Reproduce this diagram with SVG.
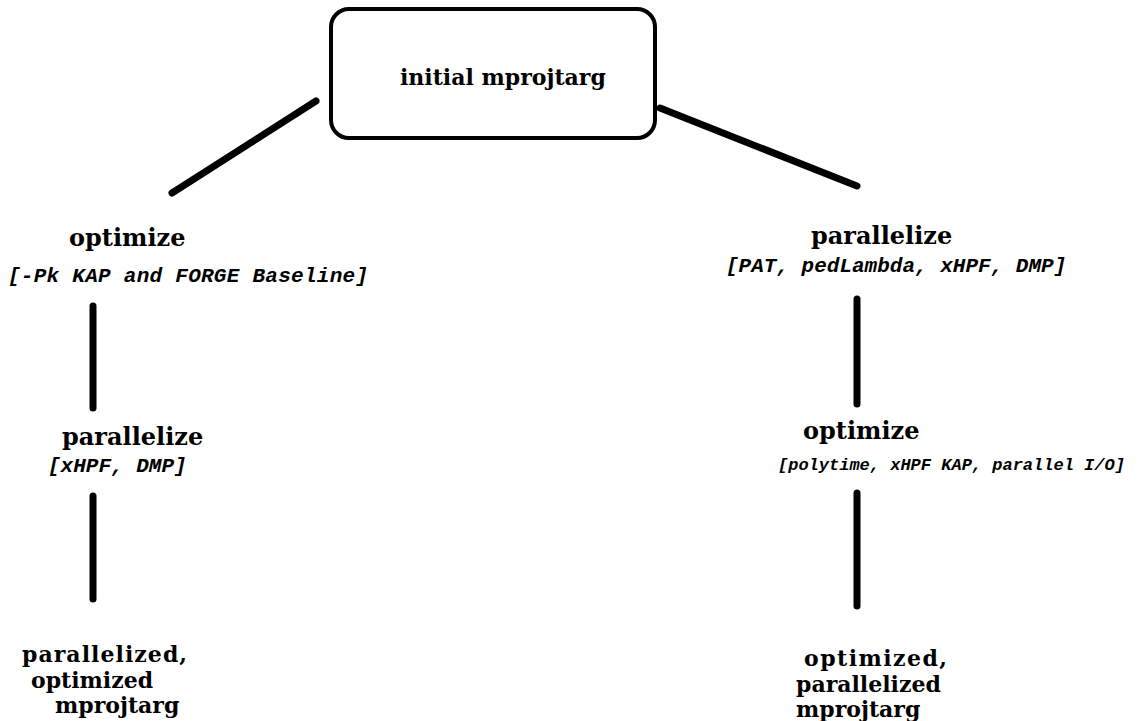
<svg xmlns="http://www.w3.org/2000/svg" width="1147" height="721" viewBox="0 0 1147 721">
<style>
.h{font-family:"DejaVu Serif","Liberation Serif",serif;font-weight:bold;font-size:24px;fill:#000}
.r{font-family:"DejaVu Serif","Liberation Serif",serif;font-weight:bold;font-size:22px;fill:#000}
.t{font-family:"DejaVu Serif","Liberation Serif",serif;font-weight:bold;font-size:22px;fill:#000}
.m{font-family:"Liberation Mono","Courier New",monospace;font-weight:bold;font-style:italic;font-size:21px;fill:#000}
.ms{font-family:"Liberation Mono","Courier New",monospace;font-weight:bold;font-style:italic;font-size:17px;fill:#000}
.c{stroke:#000;stroke-width:7;stroke-linecap:round;fill:none}
</style>
<rect width="1147" height="721" fill="#fff"/>
<g id="connectors">
<line class="c" x1="316" y1="101" x2="172" y2="193"/>
<line class="c" x1="660" y1="108" x2="857" y2="186"/>
<line class="c" x1="93" y1="306" x2="93" y2="408"/>
<line class="c" x1="93" y1="496" x2="93" y2="599"/>
<line class="c" x1="857" y1="299" x2="857" y2="404"/>
<line class="c" x1="857" y1="493" x2="857" y2="606"/>
</g>
<g id="root">
<rect x="331" y="9" width="324" height="129" rx="18" fill="#fff" stroke="#000" stroke-width="4"/>
<text class="t" x="400" y="85">initial mprojtarg</text>
</g>
<g id="optimize-left">
<text class="h" x="69" y="246">optimize</text>
<text class="m" x="8" y="282" textLength="360">[-Pk KAP and FORGE Baseline]</text>
</g>
<g id="parallelize-left">
<text class="h" x="62" y="445">parallelize</text>
<text class="m" x="48" y="472">[xHPF, DMP]</text>
</g>
<g id="result-left">
<text class="r" x="22" y="662" textLength="165">parallelized,</text>
<text class="r" x="31" y="688">optimized</text>
<text class="r" x="55" y="713">mprojtarg</text>
</g>
<g id="parallelize-right">
<text class="h" x="811" y="244">parallelize</text>
<text class="m" x="726" y="272">[PAT, pedLambda, xHPF, DMP]</text>
</g>
<g id="optimize-right">
<text class="h" x="803" y="439">optimize</text>
<text class="ms" x="778" y="470">[polytime, xHPF KAP, parallel I/O]</text>
</g>
<g id="result-right">
<text class="r" x="804" y="666" textLength="143">optimized,</text>
<text class="r" x="796" y="692">parallelized</text>
<text class="r" x="796" y="717">mprojtarg</text>
</g>
</svg>
